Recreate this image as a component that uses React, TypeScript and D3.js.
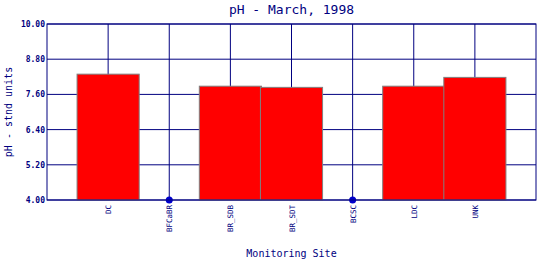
import React from "react";
import * as d3 from "d3";

const sites = ["DC", "BFCaBR", "BR_SDB", "BR_SDT", "BCSC", "LDC", "UNK"];
const phValues: (number | null)[] = [8.29, null, 7.88, 7.84, null, 7.88, 8.18];
const yTicks = [4.0, 5.2, 6.4, 7.6, 8.8, 10.0];

const W = 540, H = 260;
const M = { left: 47, right: 536, top: 24, bottom: 200 };
const NAVY = "#000080";
const FONT = "'DejaVu Sans Mono', monospace";

export default function App() {
  const x = d3.scaleLinear().domain([0, sites.length + 1]).range([M.left, M.right]);
  const y = d3.scaleLinear().domain([4, 10]).range([M.bottom, M.top]);
  const step = x(1) - x(0);
  const barW = step + 1;

  return (
    <svg width={W} height={H} style={{ position: "absolute", left: 0, top: 0, background: "#fff" }}>
      <rect x={0} y={0} width={W} height={H} fill="#fff" />
      {/* horizontal grid */}
      {yTicks.map((t) => (
        <line key={"h" + t} x1={M.left} x2={M.right} y1={y(t)} y2={y(t)} stroke={NAVY} strokeWidth={1} />
      ))}
      {/* vertical grid */}
      {sites.map((s, i) => (
        <line key={"v" + s} x1={x(i + 1)} x2={x(i + 1)} y1={M.top} y2={M.bottom} stroke={NAVY} strokeWidth={1} />
      ))}
      {/* bars */}
      {sites.map((s, i) => {
        const v = phValues[i];
        if (v == null) return null;
        return (
          <rect
            key={"b" + s}
            x={x(i + 1) - barW / 2}
            y={y(v)}
            width={barW}
            height={y(4) - y(v)}
            fill="#ff0000"
            stroke="#808080"
            strokeWidth={1}
          />
        );
      })}
      {/* missing points */}
      {sites.map((s, i) =>
        phValues[i] == null ? (
          <circle key={"c" + s} cx={x(i + 1)} cy={y(4)} r={3.5} fill="#0000cc" />
        ) : null
      )}
      {/* frame */}
      <rect x={M.left} y={M.top} width={M.right - M.left} height={M.bottom - M.top} fill="none" stroke={NAVY} strokeWidth={1} />
      {/* y tick labels */}
      {yTicks.map((t) => (
        <text key={"yl" + t} x={M.left - 2} y={y(t) + 3} textAnchor="end" fontFamily={FONT} fontSize={8} fontWeight="bold" fill={NAVY}>
          {t.toFixed(2)}
        </text>
      ))}
      {/* x tick labels */}
      {sites.map((s, i) => (
        <text
          key={"xl" + s}
          transform={`translate(${x(i + 1) + 3},${M.bottom + 5}) rotate(-90)`}
          textAnchor="end"
          fontFamily={FONT}
          fontSize={7.5}
          fill={NAVY}
        >
          {s}
        </text>
      ))}
      <text x={(M.left + M.right) / 2} y={14} textAnchor="middle" fontFamily={FONT} fontSize={13} fill={NAVY}>
        pH - March, 1998
      </text>
      <text x={(M.left + M.right) / 2} y={257} textAnchor="middle" fontFamily={FONT} fontSize={10} fill={NAVY}>
        Monitoring Site
      </text>
      <text transform={`translate(12,${(M.top + M.bottom) / 2}) rotate(-90)`} textAnchor="middle" fontFamily={FONT} fontSize={10} fill={NAVY}>
        pH - stnd units
      </text>
    </svg>
  );
}
